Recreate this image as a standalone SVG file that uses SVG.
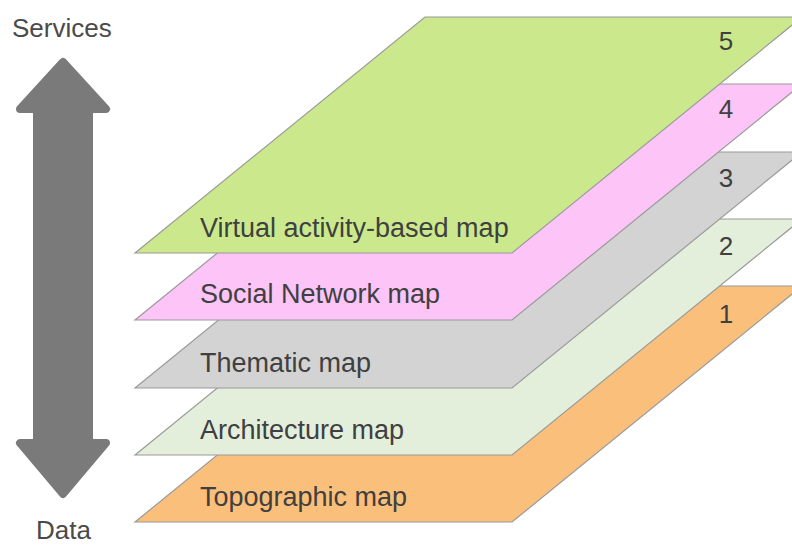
<svg xmlns="http://www.w3.org/2000/svg" width="792" height="545" viewBox="0 0 792 545">
  <style>
    .plane { stroke: #9a9a9a; stroke-width: 1.2; stroke-linejoin: miter; }
    .label { font-family: "Liberation Sans", Arial, sans-serif; font-size: 27px; fill: #404040; }
    .num { font-family: "Liberation Sans", Arial, sans-serif; font-size: 26px; fill: #404040; text-anchor: middle; }
    .axis { font-family: "Liberation Sans", Arial, sans-serif; font-size: 26px; fill: #4a4a4a; }
  </style>
  <defs>
    <!-- one stacked map plane, drawn with its bottom edge at y=0 -->
    <polygon id="plane-shape" points="135,0 425,-236 802,-236 512,0"/>
  </defs>
  <rect width="792" height="545" fill="#ffffff"/>

  <!-- double-headed axis arrow between data and services -->
  <g id="axis-arrow">
    <polygon points="63,62 106,109 89,109 89,443 106,443 63,494 20,443 37,443 37,109 20,109"
             fill="#7a7a7a" stroke="#7a7a7a" stroke-width="8" stroke-linejoin="round"/>
    <text class="axis" x="12" y="37">Services</text>
    <text class="axis" x="36" y="539">Data</text>
  </g>

  <!-- layers, bottom of the stack first -->
  <g id="layer-1">
    <use href="#plane-shape" class="plane" fill="#fbbf7c" transform="translate(0,522)"/>
    <text class="label" x="200" y="506">Topographic map</text>
    <text class="num" x="726" y="323">1</text>
  </g>
  <g id="layer-2">
    <use href="#plane-shape" class="plane" fill="#e3eedb" transform="translate(0,455)"/>
    <text class="label" x="200" y="439">Architecture map</text>
    <text class="num" x="726" y="255">2</text>
  </g>
  <g id="layer-3">
    <use href="#plane-shape" class="plane" fill="#d3d3d3" transform="translate(0,388)"/>
    <text class="label" x="200" y="372">Thematic map</text>
    <text class="num" x="726" y="187">3</text>
  </g>
  <g id="layer-4">
    <use href="#plane-shape" class="plane" fill="#fcc4f7" transform="translate(0,320)"/>
    <text class="label" x="200" y="303">Social Network map</text>
    <text class="num" x="726" y="118">4</text>
  </g>
  <g id="layer-5">
    <use href="#plane-shape" class="plane" fill="#cbe98c" transform="translate(0,253)"/>
    <text class="label" x="200" y="237">Virtual activity-based map</text>
    <text class="num" x="726" y="50">5</text>
  </g>
</svg>
